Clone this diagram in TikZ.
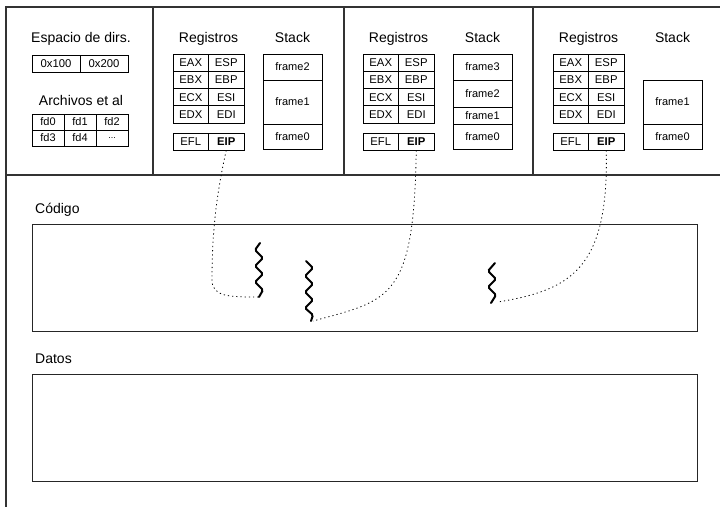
\documentclass[tikz,border=0pt]{standalone}
\usepackage{fontspec}
\setmainfont{Liberation Sans}
\tikzset{
  frameline/.style={draw=black!80, line width=1.1pt},
  cell/.style={draw, line width=0.7pt, minimum width=35.5pt, minimum height=17.25pt, inner sep=0pt, font=\fontsize{11.3}{12}\selectfont},
  fdcell/.style={draw, line width=0.7pt, minimum width=32pt, minimum height=16pt, inner sep=0pt, font=\fontsize{11}{12}\selectfont},
  addrcell/.style={draw, line width=0.7pt, minimum width=48pt, minimum height=17pt, inner sep=0pt, font=\fontsize{11.3}{12}\selectfont},
  stackbox/.style={draw, line width=0.7pt, minimum width=59pt, inner sep=0pt, font=\fontsize{11}{12}\selectfont},
  title/.style={inner sep=0pt, font=\fontsize{14}{16}\selectfont},
  bigbox/.style={draw=black!85, line width=1pt, minimum width=665pt, anchor=north west, inner sep=0pt},
  squig/.style={line width=2pt, rounded corners=1.5pt, line cap=round},
  eiplink/.style={line width=0.8pt, dash pattern=on 1.2pt off 3pt}
}
\newcommand{\RegPanel}[2]{%
  \node[title, anchor=base] (#1title) at (#2+35.5,42) {Registros};
  \node[cell] (#1eax) at (#2+17.75,62.625) {EAX};
  \node[cell] (#1esp) at (#2+53.25,62.625) {ESP};
  \node[cell] (#1ebx) at (#2+17.75,79.875) {EBX};
  \node[cell] (#1ebp) at (#2+53.25,79.875) {EBP};
  \node[cell] (#1ecx) at (#2+17.75,97.125) {ECX};
  \node[cell] (#1esi) at (#2+53.25,97.125) {ESI};
  \node[cell] (#1edx) at (#2+17.75,114.375) {EDX};
  \node[cell] (#1edi) at (#2+53.25,114.375) {EDI};
  \node[cell, minimum height=17pt] (#1efl) at (#2+17.75,141.5) {EFL};
  \node[cell, minimum height=17pt] (#1eip) at (#2+53.25,141.5) {\bfseries EIP};
  \node[title, anchor=base] (#1stack) at (#2+119.5,42) {Stack};
}
\begin{document}
\begin{tikzpicture}[x=1pt,y=-1pt]
\useasboundingbox (0,0) rectangle (720,507);
% outer frame
\draw[frameline] (720,7) -- (6,7) -- (6,507);
\draw[frameline] (6,175) -- (720,175);
\draw[frameline] (153,7) -- (153,175);
\draw[frameline] (344,7) -- (344,175);
\draw[frameline] (533,7) -- (533,175);
% panel 1
\node[title, anchor=base] (esp) at (81,42) {Espacio de dirs.};
\node[addrcell] (a100) at (56,63.5) {0x100};
\node[addrcell] (a200) at (104,63.5) {0x200};
\node[title, anchor=base] (arch) at (81,105) {Archivos et al};
\node[fdcell] (fd0) at (48,122) {fd0};
\node[fdcell] (fd1) at (80,122) {fd1};
\node[fdcell] (fd2) at (112,122) {fd2};
\node[fdcell] (fd3) at (48,138) {fd3};
\node[fdcell] (fd4) at (80,138) {fd4};
\node[fdcell] (fdx) at (112,138) {\fontsize{9}{9}\selectfont\raisebox{-1.5pt}{...}};
% register panels
\RegPanel{A}{173}
\RegPanel{B}{363}
\RegPanel{C}{553}
% stacks
\node[stackbox, minimum height=26pt] (Af2) at (292.5,67) {frame2};
\node[stackbox, minimum height=44pt] (Af1) at (292.5,102) {frame1};
\node[stackbox, minimum height=25pt] (Af0) at (292.5,136.5) {frame0};
\node[stackbox, minimum height=26pt] (Bf3) at (482.5,67) {frame3};
\node[stackbox, minimum height=27pt] (Bf2) at (482.5,93.5) {frame2};
\node[stackbox, minimum height=17pt] (Bf1) at (482.5,115.5) {frame1};
\node[stackbox, minimum height=25pt] (Bf0) at (482.5,136.5) {frame0};
\node[stackbox, minimum height=44pt] (Cf1) at (672.5,102) {frame1};
\node[stackbox, minimum height=25pt] (Cf0) at (672.5,136.5) {frame0};
% code and data
\node[title, anchor=base west] (codlabel) at (35,213) {Código};
\node[bigbox, minimum height=107pt] (code) at (32,224) {};
\node[title, anchor=base west] (datlabel) at (35,363) {Datos};
\node[bigbox, minimum height=107pt] (data) at (32,374) {};
% squiggles
\draw[squig] (260,243) -- (255,250) -- (263,258) -- (255,266) -- (263,274) -- (255,282) -- (263,290) -- (259,297);
\coordinate (s1) at (259,297);
\draw[squig] (306,261) -- (313,268) -- (305,276) -- (313,284) -- (305,292) -- (313,300) -- (305,308) -- (313,315) -- (311,321);
\coordinate (s2) at (313,321);
\draw[squig] (495,263) -- (488,271) -- (496,279) -- (488,287) -- (496,295) -- (491,303);
\coordinate (s3) at (498,302);
% links
\draw[eiplink] (Aeip.south) .. controls (215,200) and (212,240) .. (212,280) .. controls (212,297) and (230,297) .. (s1);
\draw[eiplink] (Beip.south) .. controls (414,300) and (390,300) .. (s2);
\draw[eiplink] (Ceip.south) .. controls (609,270) and (570,290) .. (s3);
\end{tikzpicture}
\end{document}
